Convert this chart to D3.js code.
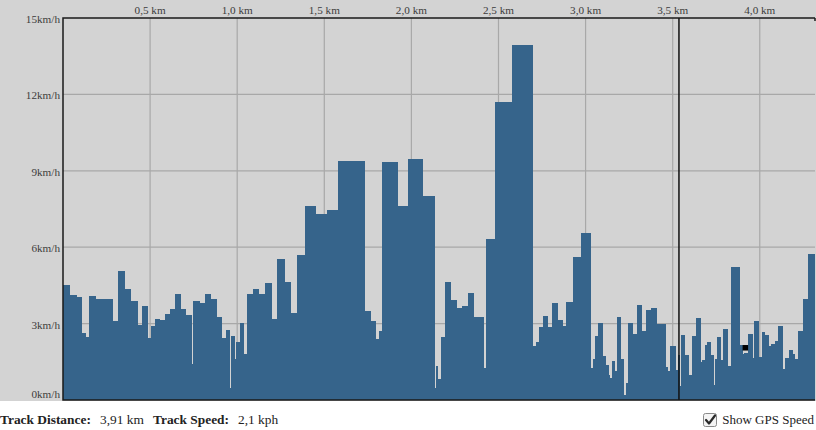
<!DOCTYPE html>
<html><head><meta charset="utf-8">
<script src="https://cdn.jsdelivr.net/npm/d3@7"></script>
<style>
html,body{margin:0;padding:0;background:#fff;overflow:hidden}
svg{display:block;font-family:"Liberation Serif",serif}
</style></head><body>
<svg id="c" width="816" height="430"></svg>
<script>
// segment start distances (km)
const segStart = [0,0.0373,0.0758,0.1085,0.1315,0.1521,0.1889,0.2193,0.2865,0.3129,
0.3530,0.3898,0.4277,0.4546,0.4834,0.5063,0.5293,0.5540,0.5827,0.6114,
0.6441,0.6768,0.7032,0.7400,0.7491,0.7836,0.8163,0.8490,0.8835,0.9139,
0.9351,0.9558,0.9638,0.9845,0.9943,1.0172,1.0402,1.0591,1.0936,1.1263,
1.1607,1.2009,1.2296,1.2755,1.3100,1.3444,1.3903,1.4535,1.5149,1.5798,
1.7348,1.7675,1.7939,1.8152,1.8341,1.9202,1.9834,2.0637,2.1326,2.1407,
2.1498,2.1728,2.1940,2.2285,2.2629,2.2933,2.3244,2.3565,2.4139,2.4277,
2.4811,2.5786,2.6975,2.7147,2.7354,2.7566,2.7836,2.8083,2.8410,2.8674,
2.8903,2.9306,2.9748,3.0322,3.0454,3.0551,3.0741,3.0993,3.1165,3.1315,
3.1412,3.1527,3.1659,3.1797,3.2027,3.2216,3.2314,3.2463,3.2715,3.2945,
3.3249,3.3479,3.3766,3.4070,3.4340,3.4587,3.4725,3.4839,3.5184,3.5299,
3.5390,3.5488,3.5718,3.5907,3.6102,3.6349,3.6619,3.6676,3.6866,3.6998,
3.7210,3.7383,3.7457,3.7537,3.7785,3.7917,3.8169,3.8358,3.8835,3.9007,
3.9122,3.9317,3.9581,3.9679,3.9948,4.0121,4.0310,4.0540,4.0654,4.0884,
4.1074,4.1326,4.1458,4.1705,4.1900,4.2032,4.2187,4.2474,4.2796];
const segEnd = 4.36;
// speed per segment (km/h)
const speeds = [4.52,4.12,4.06,2.64,2.49,4.08,3.95,3.97,3.11,5.06,
4.35,3.90,2.94,3.69,2.45,2.90,3.19,3.15,3.36,3.57,
4.16,3.56,3.34,1.42,3.90,3.80,4.15,3.97,3.26,2.45,
2.75,0.48,2.51,1.60,2.29,3.01,1.81,4.16,4.37,4.16,
4.58,3.18,5.52,4.62,3.40,5.69,7.62,7.30,7.45,9.37,
3.51,3.10,2.41,2.72,9.33,7.62,9.48,8.01,0.48,1.35,
0.82,2.47,4.65,3.93,3.62,3.70,4.19,3.27,1.27,6.31,
11.71,13.95,2.12,2.29,2.88,3.30,2.88,3.80,3.14,2.92,
3.86,5.63,6.54,1.27,1.60,2.51,3.01,1.73,1.37,0.97,
0.85,1.54,1.15,3.26,1.60,0.20,0.68,3.01,2.59,3.72,
2.71,3.55,3.61,2.98,2.97,1.31,1.15,2.12,1.18,1.77,
0.55,2.55,1.77,0.98,2.51,3.22,1.48,1.57,2.16,2.27,
1.77,0.59,1.61,2.49,1.57,2.79,1.35,5.21,2.16,1.80,
1.83,2.58,1.66,3.11,1.68,2.66,2.55,2.12,2.20,2.33,
2.90,1.20,1.64,1.96,1.81,1.61,2.72,3.98,5.73];
const xTicks = [0.5,1.0,1.5,2.0,2.5,3.0,3.5,4.0];
const yTicks = [0,3,6,9,12,15];
const cursorKm = 3.536;
const trackKm = 3.91;
const trackSpeed = 2.1;
const gpsLabel = "Show GPS Speed";

const svg = d3.select("#c");
const L = 63, R = 815, T = 18, B = 400;
const x = d3.scaleLinear().domain([0, 4.317]).range([L, R]);
const y = d3.scaleLinear().domain([0, 15]).range([B, T]);
const comma1 = v => d3.format(".1f")(v).replace(".", ",");
const comma2 = v => d3.format(".2f")(v).replace(".", ",");

// backgrounds
svg.append("rect").attr("x",0).attr("y",0).attr("width",816).attr("height",401).attr("fill","#d3d3d3");
svg.append("rect").attr("x",0).attr("y",401).attr("width",816).attr("height",29).attr("fill","#ffffff");

svg.append("defs").append("clipPath").attr("id","clip")
  .append("rect").attr("x",L).attr("y",T).attr("width",R-L).attr("height",B-T);

// gridlines
const grid = svg.append("g").attr("stroke","#a8a8a8").attr("stroke-width",1.2);
grid.selectAll("line.v").data(xTicks).join("line")
  .attr("x1",d=>x(d)).attr("x2",d=>x(d)).attr("y1",T).attr("y2",B);
grid.selectAll("line.h").data(yTicks.filter(d=>d>0 && d<15)).join("line").attr("class","h")
  .attr("x1",L).attr("x2",R).attr("y1",d=>y(d)).attr("y2",d=>y(d));

// bars
const segs = speeds.map((v,i)=>({x0:segStart[i], x1: i+1<segStart.length?segStart[i+1]:segEnd, v}));
svg.append("g").attr("clip-path","url(#clip)")
  .selectAll("rect").data(segs).join("rect")
  .attr("x",d=>x(d.x0)).attr("width",d=>x(d.x1)-x(d.x0)+0.3)
  .attr("y",d=>y(d.v)).attr("height",d=>y(0)-y(d.v))
  .attr("fill","#36648b").attr("shape-rendering","crispEdges");

// cursor line
svg.append("line").attr("x1",x(cursorKm)).attr("x2",x(cursorKm)).attr("y1",T).attr("y2",B)
  .attr("stroke","#111").attr("stroke-width",1.5);

// track marker
svg.append("rect").attr("x",x(trackKm)-1.5).attr("y",y(trackSpeed)-1.5).attr("width",5.5).attr("height",5.5)
  .attr("fill","#000");

// plot border
svg.append("path").attr("d",`M${R},${T}H${L}V${B}H${R}`).attr("fill","none")
  .attr("stroke","#1a1a1a").attr("stroke-width",1.5);
svg.append("line").attr("x1",R).attr("x2",R).attr("y1",T).attr("y2",T+3).attr("stroke","#1a1a1a").attr("stroke-width",1.5);

// axes labels
svg.append("g").selectAll("text").data(xTicks).join("text")
  .attr("x",d=>x(d)).attr("y",14).attr("text-anchor","middle")
  .attr("font-size",11.2).attr("fill","#3c3c3c").text(d=>comma1(d)+" km");
svg.append("g").selectAll("text").data(yTicks).join("text")
  .attr("x",60).attr("y",d=>Math.min(y(d)+5,398)).attr("text-anchor","end")
  .attr("font-size",11.2).attr("fill","#3c3c3c").text(d=>d+"km/h");

// info bar
const info = svg.append("g").attr("font-size",13.4).attr("fill","#222");
info.append("text").attr("x",0).attr("y",424).attr("font-weight","bold").text("Track Distance:");
info.append("text").attr("x",100).attr("y",424).text(comma2(trackKm)+" km");
info.append("text").attr("x",153).attr("y",424).attr("font-weight","bold").text("Track Speed:");
info.append("text").attr("x",238).attr("y",424).text(comma1(trackSpeed)+" kph");

// checkbox
svg.append("rect").attr("x",703.5).attr("y",413.5).attr("width",13).attr("height",13).attr("rx",2)
  .attr("fill","#f4f4f4").attr("stroke","#8a8a8a").attr("stroke-width",1);
svg.append("path").attr("d","M706,420 L709,423.5 L715,415.5").attr("fill","none")
  .attr("stroke","#2a2a2a").attr("stroke-width",2.2).attr("stroke-linecap","round").attr("stroke-linejoin","round");
svg.append("text").attr("x",814).attr("y",424).attr("text-anchor","end")
  .attr("font-size",13).attr("fill","#222").text(gpsLabel);
</script>
</body></html>
